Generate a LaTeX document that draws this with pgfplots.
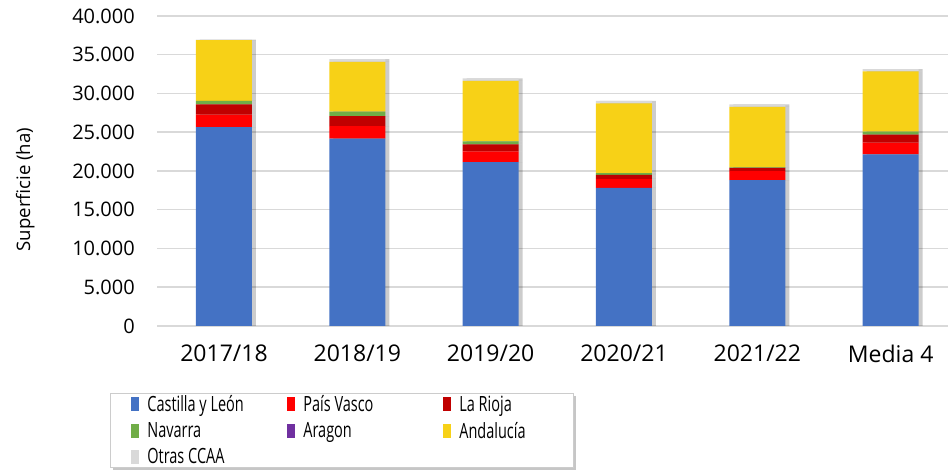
\documentclass[border=0pt]{standalone}
\usepackage{fontspec}
\setmainfont{Open Sans}
\usepackage{graphicx}
\usepackage{pgfplots}
\pgfplotsset{compat=1.18}
\usetikzlibrary{shadows}
\definecolor{cyl}{HTML}{4472C4}
\definecolor{pv}{HTML}{FF0000}
\definecolor{lr}{HTML}{C00000}
\definecolor{nav}{HTML}{70AD47}
\definecolor{ara}{HTML}{7030A0}
\definecolor{and}{HTML}{F7D117}
\definecolor{otr}{HTML}{D9D9D9}
\definecolor{gridgray}{HTML}{D9D9D9}
\tikzset{myshadow/.style={fill=black, fill opacity=0.2, transform canvas={xshift=4pt}}}
\newcommand{\lgt}[2]{\makebox[#1][l]{\scalebox{0.69}[1]{#2}}}
\pgfplotstableread{
x cyl pv lr nav ara and otr
0 25670 1610 1330 430 0 7850 60
1 24170 1630 1290 570 0 6420 350
2 21140 1380 910 390 0 7810 310
3 17830 1160 520 210 0 9020 300
4 18810 1160 440 50 0 7800 350
5 22140 1510 1040 380 0 7770 300
}\datatable
\begin{document}
\begin{tikzpicture}
\useasboundingbox (-157.3pt,-144pt) rectangle (790.7pt,326pt);
\begin{axis}[
  at={(0,0)}, anchor=south west,
  scale only axis, width=790.7pt, height=310pt,
  ybar stacked, bar width=56pt,
  xmin=-0.5, xmax=5.43, ymin=0, ymax=40000,
  scaled y ticks=false,
  xtick={0,...,5},
  xticklabels={2017/18,2018/19,2019/20,2020/21,2021/22,Media 4},
  ytick={0,5000,...,40000},
  yticklabels={0,5.000,10.000,15.000,20.000,25.000,30.000,35.000,40.000},
  ymajorgrids, major grid style={draw=gridgray, line width=1.5pt},
  axis line style={draw=none}, major tick length=0pt,
  xticklabel style={font=\fontsize{23}{27}\selectfont, yshift=-15pt},
  yticklabel style={font=\fontsize{20}{24}\selectfont, xshift=-19pt},
  ylabel={Superficie (ha)},
  every axis y label/.style={at={(axis description cs:-0.167,0.44)}, rotate=90, anchor=center, font=\fontsize{18.6}{22}\selectfont},
  sq/.style={draw=none, fill=#1,
    preaction={myshadow},
    legend image code/.code={\pgfpathrectangle{\pgfpoint{0pt}{-7pt}}{\pgfpoint{8pt}{14pt}}\pgfsetfillcolor{#1}\pgfusepath{fill}}},
  legend columns=3,
  legend cell align=left,
  legend style={at={(axis description cs:-0.0598,-0.216)}, anchor=north west,
    draw=gray!40, line width=0.8pt, fill=white,
    drop shadow={shadow xshift=3pt, shadow yshift=-3pt, opacity=0.45},
    inner xsep=21pt, inner ysep=2pt, row sep=9pt,
    font=\fontsize{21}{24}\selectfont,
    nodes={inner sep=0pt},
    /tikz/every odd column/.append style={column sep=8pt},
    /tikz/every even column/.append style={column sep=5pt}},
]
\addplot[sq=cyl] table[x=x,y=cyl]{\datatable};
\addplot[sq=pv] table[x=x,y=pv]{\datatable};
\addplot[sq=lr] table[x=x,y=lr]{\datatable};
\addplot[sq=nav] table[x=x,y=nav]{\datatable};
\addplot[sq=ara] table[x=x,y=ara]{\datatable};
\addplot[sq=and] table[x=x,y=and]{\datatable};
\addplot[sq=otr] table[x=x,y=otr]{\datatable};
\legend{\lgt{135pt}{Castilla y León},\lgt{135pt}{País Vasco},\lgt{93pt}{La Rioja},\lgt{135pt}{Navarra},\lgt{135pt}{Aragon},\lgt{93pt}{Andalucía},\lgt{135pt}{Otras CCAA}}
\end{axis}
\end{tikzpicture}
\end{document}
